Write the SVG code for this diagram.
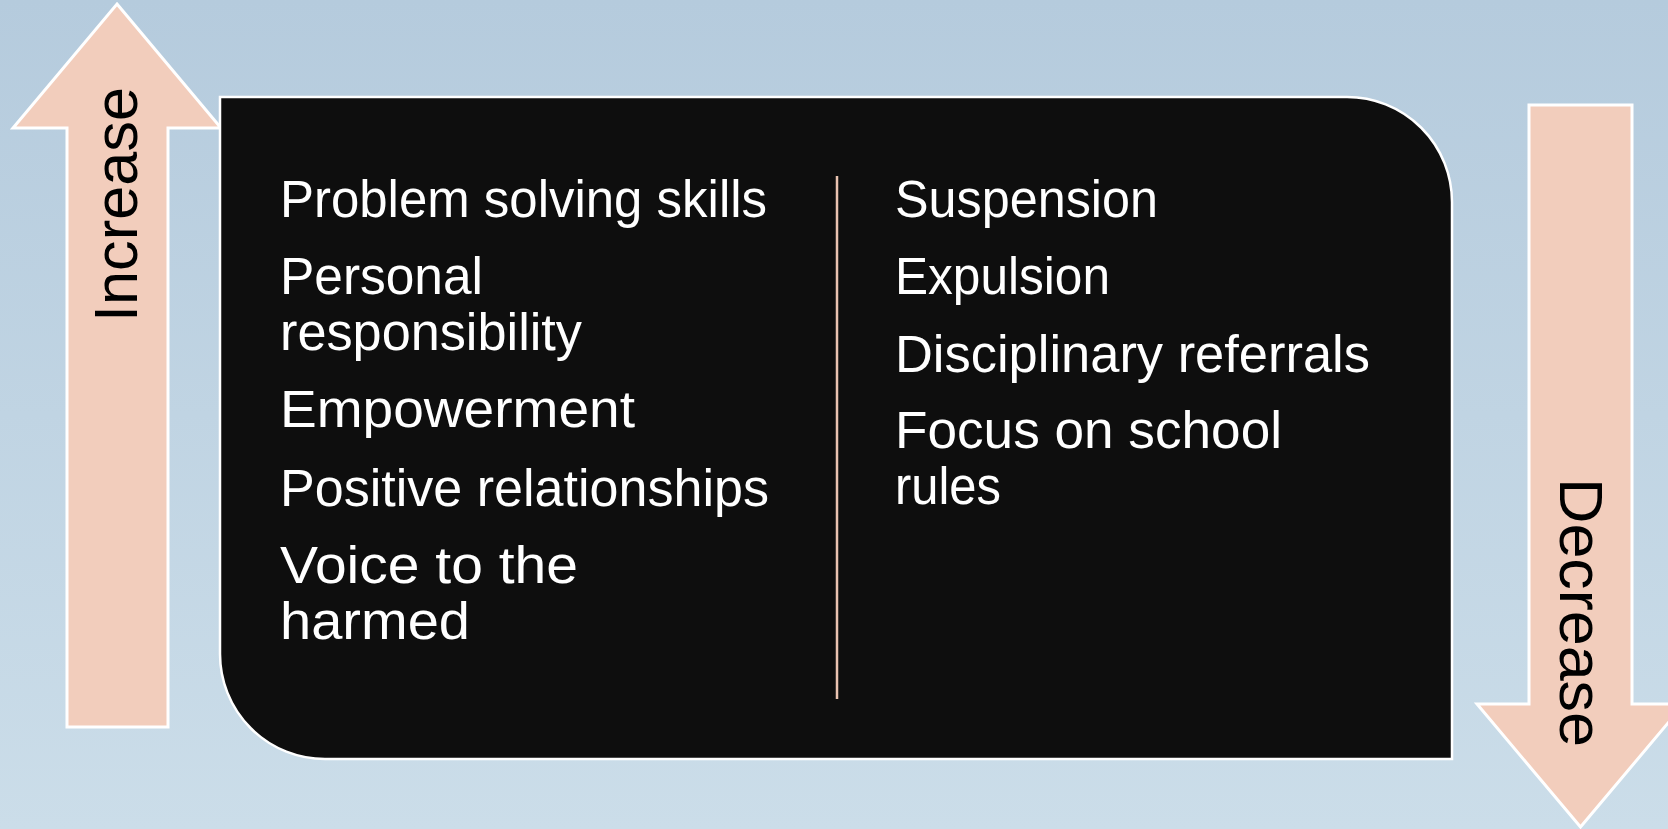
<svg xmlns="http://www.w3.org/2000/svg" width="1668" height="829" viewBox="0 0 1668 829">
  <defs>
    <linearGradient id="bg" x1="0" y1="0" x2="0" y2="1">
      <stop offset="0" stop-color="#b5cbdd"/>
      <stop offset="1" stop-color="#cbdde9"/>
    </linearGradient>
  </defs>
  <style>
    .arrow { fill: #f2cdbc; stroke: #ffffff; stroke-width: 3; }
    .box { fill: #0e0e0e; stroke: #ffffff; stroke-width: 2.5; }
    .item { font-family: "Liberation Sans", Arial, sans-serif; font-size: 51px; fill: #ffffff; }
    .label { font-family: "Liberation Sans", Arial, sans-serif; font-size: 61px; fill: #000000; text-anchor: middle; }
    .divider { stroke: #e9c3b1; stroke-width: 2.5; }
  </style>
  <rect x="0" y="0" width="1668" height="829" fill="url(#bg)"/>

  <g id="increase-arrow">
    <polygon class="arrow" points="117,4 221,128 168,128 168,727 67,727 67,128 13,128"/>
    <text class="label" transform="translate(137,204.5) rotate(-90)" x="0" y="0" textLength="235" lengthAdjust="spacingAndGlyphs">Increase</text>
  </g>

  <g id="decrease-arrow">
    <polygon class="arrow" points="1529,105 1632,105 1632,704 1684,704 1580.5,827 1477,704 1529,704"/>
    <text class="label" transform="translate(1560,612.5) rotate(90)" x="0" y="0" textLength="269" lengthAdjust="spacingAndGlyphs">Decrease</text>
  </g>

  <g id="main-box">
    <path class="box" d="M220,97 H1347 A105,105 0 0 1 1452,202 V759 H325 A105,105 0 0 1 220,654 Z"/>
    <line class="divider" x1="837" y1="176" x2="837" y2="699"/>
  </g>

  <g id="increase-list">
    <text class="item" x="280" y="217" textLength="487" lengthAdjust="spacingAndGlyphs">Problem solving skills</text>
    <text class="item" x="280" y="294" textLength="203" lengthAdjust="spacingAndGlyphs">Personal</text>
    <text class="item" x="280" y="350" textLength="302" lengthAdjust="spacingAndGlyphs">responsibility</text>
    <text class="item" x="280" y="427" textLength="355" lengthAdjust="spacingAndGlyphs">Empowerment</text>
    <text class="item" x="280" y="506" textLength="489" lengthAdjust="spacingAndGlyphs">Positive relationships</text>
    <text class="item" x="280" y="583" textLength="298" lengthAdjust="spacingAndGlyphs">Voice to the</text>
    <text class="item" x="280" y="639" textLength="190" lengthAdjust="spacingAndGlyphs">harmed</text>
  </g>

  <g id="decrease-list">
    <text class="item" x="895" y="217" textLength="263" lengthAdjust="spacingAndGlyphs">Suspension</text>
    <text class="item" x="895" y="294" textLength="215" lengthAdjust="spacingAndGlyphs">Expulsion</text>
    <text class="item" x="895" y="372" textLength="475" lengthAdjust="spacingAndGlyphs">Disciplinary referrals</text>
    <text class="item" x="895" y="448" textLength="387" lengthAdjust="spacingAndGlyphs">Focus on school</text>
    <text class="item" x="895" y="504" textLength="106" lengthAdjust="spacingAndGlyphs">rules</text>
  </g>
</svg>
